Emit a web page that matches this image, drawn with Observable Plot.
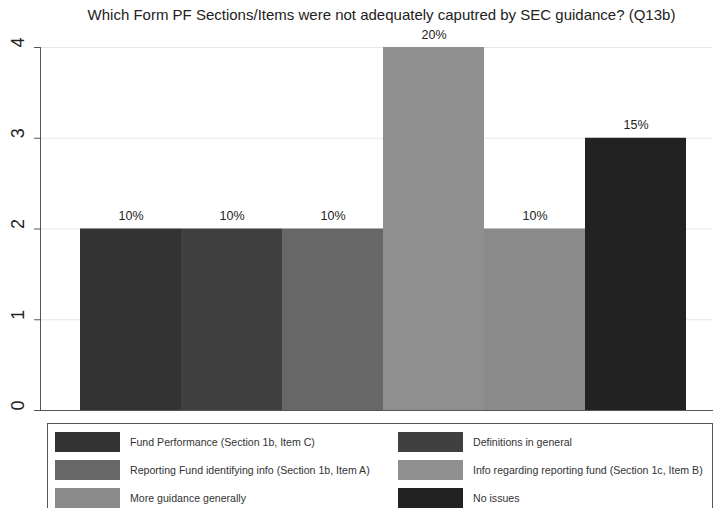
<!DOCTYPE html>
<html>
<head>
<meta charset="utf-8">
<script src="https://cdn.jsdelivr.net/npm/d3@7"></script>
<script src="https://cdn.jsdelivr.net/npm/@observablehq/plot@0.6"></script>
<style>
  body { margin: 0; background: #fff; font-family: "Liberation Sans", Arial, sans-serif; }
  #wrap { width: 715px; height: 508px; overflow: hidden; }
  #title { height: 20px; box-sizing: border-box; padding: 6px 0 0 48px; text-align: center; font-size: 15px; color: #222; line-height: 18px; white-space: nowrap; overflow: visible; position: relative; z-index: 1; }
  #chart svg { display: block; overflow: visible; }
  #legend { margin: 5px 0 0 47px; width: 666px; height: 100px; box-sizing: border-box; border: 1px solid #555; padding: 8px 0 0 7px; display: grid; grid-template-columns: 343px 312px; grid-auto-rows: 20px; row-gap: 8px; align-content: start; }
  .item { display: flex; align-items: center; height: 20px; font-size: 10.6px; color: #333; white-space: nowrap; }
  .sw { width: 65px; height: 20px; margin-right: 10px; flex: none; }
</style>
</head>
<body>
<div id="wrap">
  <div id="title">Which Form PF Sections/Items were not adequately caputred by SEC guidance? (Q13b)</div>
  <div id="chart"></div>
  <div id="legend"></div>
</div>
<script>
const categories = [
  "Fund Performance (Section 1b, Item C)",
  "Definitions in general",
  "Reporting Fund identifying info (Section 1b, Item A)",
  "Info regarding reporting fund (Section 1c, Item B)",
  "More guidance generally",
  "No issues"
];
const counts = [2, 2, 2, 4, 2, 3];
const percents = ["10%", "10%", "10%", "20%", "10%", "15%"];
const colors = ["#333333", "#404040", "#676767", "#8f8f8f", "#8a8a8a", "#222222"];
const yTicks = [0, 1, 2, 3, 4];

const data = categories.map((c, i) => ({cat: c, n: counts[i], pct: percents[i]}));

const chart = Plot.plot({
  width: 715,
  height: 398,
  marginLeft: 40,
  marginRight: 3,
  marginTop: 27,
  marginBottom: 8,
  style: {fontFamily: "Liberation Sans, Arial, sans-serif", background: "#fff", overflow: "visible"},
  x: {domain: categories, padding: 0, insetLeft: 40, insetRight: 26, axis: null},
  y: {domain: [0, 4], axis: null},
  color: {domain: categories, range: colors},
  marks: [
    Plot.gridY(yTicks.slice(1), {stroke: "#e6e6e6", strokeOpacity: 1}),
    Plot.barY(data, {x: "cat", y: "n", fill: "cat"}),
    Plot.text(data, {x: "cat", y: "n", text: "pct", dy: -13, fontSize: 12.5, fill: "#222"}),
    Plot.axisY(yTicks, {tickSize: 6, tickFormat: () => "", stroke: "#555", label: null}),
    Plot.text(yTicks, {y: d => d, text: d => String(d), frameAnchor: "left", dx: -22, rotate: -90, fontSize: 18, fill: "#222"}),
    Plot.frame({anchor: "left", stroke: "#555"}),
    Plot.frame({anchor: "bottom", stroke: "#555"})
  ]
});
document.getElementById("chart").appendChild(chart);

const legend = document.getElementById("legend");
categories.forEach((c, i) => {
  const item = document.createElement("div");
  item.className = "item";
  const sw = document.createElement("div");
  sw.className = "sw";
  sw.style.background = colors[i];
  const t = document.createElement("span");
  t.textContent = c;
  item.appendChild(sw);
  item.appendChild(t);
  legend.appendChild(item);
});
</script>
</body>
</html>
